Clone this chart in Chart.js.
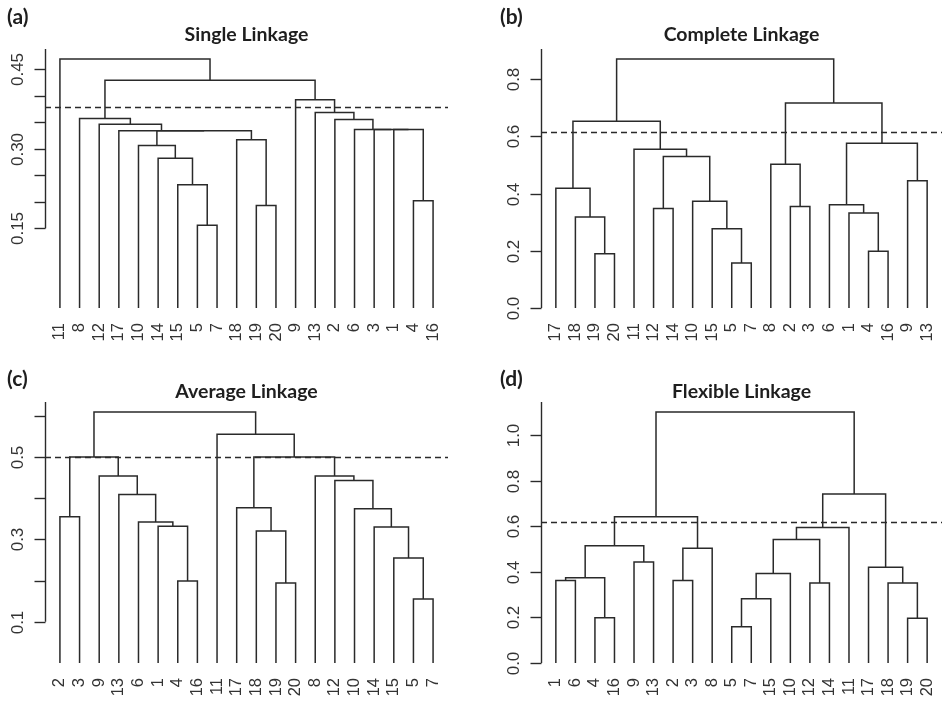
<!DOCTYPE html>
<html>
<head>
<meta charset="utf-8">
<script src="https://cdn.jsdelivr.net/npm/chart.js@4.4.1/dist/chart.umd.min.js"></script>
<style>
  body { margin: 0; background: #fff; width: 942px; height: 703px; position: relative; overflow: hidden; }
  canvas { position: absolute; }
</style>
</head>
<body>
<canvas id="pa" width="471" height="360" style="left:0;top:0"></canvas>
<canvas id="pb" width="471" height="360" style="left:471px;top:0"></canvas>
<canvas id="pc" width="471" height="363" style="left:0;top:340px"></canvas>
<canvas id="pd" width="471" height="363" style="left:471px;top:340px"></canvas>
<script>
// leaf labels in plotting order, merges in R hclust style:
// negative = leaf position (1-based), positive = an earlier merge
var singleLeaves = ['11','8','12','17','10','14','15','5','7','18','19','20','9','13','2','6','3','1','4','16'];
var singleMerges = [[-8,-9],[-7,1],[-6,2],[-5,3],[-11,-12],[-10,5],[4,6],[-4,7],[-3,8],[-2,9],
                    [-19,-20],[-18,11],[-17,12],[-16,13],[-15,14],[-14,15],[-13,16],[10,17],[-1,18]];
var singleHeights = [0.156,0.232,0.282,0.306,0.193,0.317,0.334,0.334,0.346,0.357,
                     0.202,0.336,0.336,0.336,0.355,0.368,0.392,0.429,0.469];
var singleCut = 0.379;
var singleTicks = [0.15,0.20,0.25,0.30,0.35,0.40,0.45];
var singleTickLabels = ['0.15','','','0.30','','','0.45'];

var completeLeaves = ['17','18','19','20','11','12','14','10','15','5','7','8','2','3','6','1','4','16','9','13'];
var completeMerges = [[-3,-4],[-2,1],[-1,2],[-10,-11],[-9,4],[-8,5],[-6,-7],[7,6],[-5,8],[3,9],
                      [-13,-14],[-12,11],[-17,-18],[-16,13],[-15,14],[-19,-20],[15,16],[12,17],[10,18]];
var completeHeights = [0.190,0.318,0.418,0.157,0.277,0.373,0.348,0.529,0.555,0.652,
                       0.355,0.502,0.198,0.332,0.361,0.445,0.576,0.716,0.870];
var completeCut = 0.614;
var completeTicks = [0.0,0.2,0.4,0.6,0.8];
var completeTickLabels = ['0.0','0.2','0.4','0.6','0.8'];

var averageLeaves = ['2','3','9','13','6','1','4','16','11','17','18','19','20','8','12','10','14','15','5','7'];
var averageMerges = [[-1,-2],[-7,-8],[-6,2],[-5,3],[-4,4],[-3,5],[1,6],[-12,-13],[-11,8],[-10,9],
                     [-19,-20],[-18,11],[-17,12],[-16,13],[-15,14],[-14,15],[10,16],[-9,17],[7,18]];
var averageHeights = [0.355,0.199,0.332,0.342,0.409,0.454,0.500,0.194,0.320,0.377,
                      0.155,0.255,0.330,0.374,0.443,0.454,0.500,0.555,0.609];
var averageCut = 0.500;
var averageTicks = [0.1,0.2,0.3,0.4,0.5,0.6];
var averageTickLabels = ['0.1','','0.3','','0.5',''];

var flexibleLeaves = ['1','6','4','16','9','13','2','3','8','5','7','15','10','12','14','11','17','18','19','20'];
var flexibleMerges = [[-1,-2],[-3,-4],[1,2],[-5,-6],[3,4],[-7,-8],[6,-9],[5,7],[-10,-11],[9,-12],
                      [10,-13],[-14,-15],[11,12],[13,-16],[-19,-20],[-18,15],[-17,16],[14,17],[8,18]];
var flexibleHeights = [0.363,0.199,0.375,0.444,0.515,0.363,0.504,0.643,0.159,0.282,
                       0.393,0.351,0.543,0.596,0.197,0.351,0.421,0.743,1.103];
var flexibleCut = 0.619;
var flexibleTicks = [0.0,0.2,0.4,0.6,0.8,1.0];
var flexibleTickLabels = ['0.0','0.2','0.4','0.6','0.8','1.0'];

var inkColor = '#2a2a2a';
var textColor = '#333';

// one dataset per merge: left leg, crossbar, right leg
function buildLinks(merges, heights) {
  var pos = [];
  var sets = [];
  function where(ref) {
    if (ref < 0) return { x: -ref, y: 0 };
    return { x: pos[ref - 1], y: heights[ref - 1] };
  }
  for (var i = 0; i < merges.length; i++) {
    var l = where(merges[i][0]);
    var r = where(merges[i][1]);
    var h = heights[i];
    pos.push((l.x + r.x) / 2);
    sets.push({
      data: [{x: l.x, y: l.y}, {x: l.x, y: h}, {x: r.x, y: h}, {x: r.x, y: r.y}],
      showLine: true,
      borderColor: inkColor,
      borderWidth: 1.5,
      pointRadius: 0,
      tension: 0,
      fill: false
    });
  }
  return sets;
}

function makePanel(id, p) {
  var top = Math.max.apply(null, p.heights);
  var decor = {
    id: 'decor_' + id,
    afterDraw: function(chart) {
      var ctx = chart.ctx;
      var xs = chart.scales.x, ys = chart.scales.y;
      var area = chart.chartArea;
      ctx.save();
      // cut line
      ctx.strokeStyle = inkColor;
      ctx.lineWidth = 1.4;
      ctx.setLineDash([6, 4]);
      var cy = Math.round(ys.getPixelForValue(p.cut)) + 0.5;
      ctx.beginPath();
      ctx.moveTo(area.left, cy);
      ctx.lineTo(area.right, cy);
      ctx.stroke();
      ctx.setLineDash([]);
      // y axis
      var ax = Math.round(area.left) + 0.5;
      ctx.lineWidth = 1.4;
      ctx.beginPath();
      ctx.moveTo(ax, ys.getPixelForValue(p.ticks[0]));
      ctx.lineTo(ax, area.top);
      ctx.stroke();
      ctx.fillStyle = textColor;
      ctx.font = '17px "Liberation Sans", Arial, sans-serif';
      for (var i = 0; i < p.ticks.length; i++) {
        var ty = Math.round(ys.getPixelForValue(p.ticks[i])) + 0.5;
        ctx.beginPath();
        ctx.moveTo(ax - 11, ty);
        ctx.lineTo(ax, ty);
        ctx.stroke();
        if (p.tickLabels[i]) {
          ctx.save();
          ctx.translate(ax - 27, ty);
          ctx.rotate(-Math.PI / 2);
          ctx.textAlign = 'center';
          ctx.textBaseline = 'middle';
          ctx.fillText(p.tickLabels[i], 0, 0);
          ctx.restore();
        }
      }
      // leaf labels
      ctx.font = '16.5px "Liberation Sans", Arial, sans-serif';
      var ly = ys.getPixelForValue(0) + 15;
      for (var j = 0; j < p.leaves.length; j++) {
        ctx.save();
        ctx.translate(xs.getPixelForValue(j + 1), ly);
        ctx.rotate(-Math.PI / 2);
        ctx.textAlign = 'right';
        ctx.textBaseline = 'middle';
        ctx.fillText(p.leaves[j], 0, 0);
        ctx.restore();
      }
      // title and panel letter
      ctx.fillStyle = '#1e1e1e';
      ctx.textAlign = 'center';
      ctx.textBaseline = 'middle';
      ctx.font = 'bold 19.5px Lato, "Open Sans", sans-serif';
      ctx.fillText(p.title, (area.left + area.right) / 2, p.titleY);
      ctx.textAlign = 'left';
      ctx.font = 'bold 21px Lato, "Open Sans", sans-serif';
      ctx.fillText(p.letter, p.letterX, p.letterY);
      ctx.restore();
    }
  };
  return new Chart(document.getElementById(id), {
    type: 'scatter',
    data: { datasets: buildLinks(p.merges, p.heights) },
    options: {
      responsive: false,
      animation: false,
      events: [],
      layout: { padding: p.pad },
      plugins: { legend: { display: false }, tooltip: { enabled: false } },
      scales: {
        x: { type: 'linear', display: false, min: 0.24, max: 20.76 },
        y: { type: 'linear', display: false, min: -0.04 * top, max: 1.04 * top }
      }
    },
    plugins: [decor]
  });
}

makePanel('pa', { leaves: singleLeaves, merges: singleMerges, heights: singleHeights, cut: singleCut,
  ticks: singleTicks, tickLabels: singleTickLabels, title: 'Single Linkage', letter: '(a)',
  titleY: 35, letterX: 7, letterY: 17, pad: { left: 45, right: 23, top: 49, bottom: 42 } });
makePanel('pb', { leaves: completeLeaves, merges: completeMerges, heights: completeHeights, cut: completeCut,
  ticks: completeTicks, tickLabels: completeTickLabels, title: 'Complete Linkage', letter: '(b)',
  titleY: 35, letterX: 29, letterY: 17, pad: { left: 70, right: 0, top: 49, bottom: 42 } });
makePanel('pc', { leaves: averageLeaves, merges: averageMerges, heights: averageHeights, cut: averageCut,
  ticks: averageTicks, tickLabels: averageTickLabels, title: 'Average Linkage', letter: '(c)',
  titleY: 52, letterX: 7, letterY: 39, pad: { left: 45, right: 23, top: 62, bottom: 30 } });
makePanel('pd', { leaves: flexibleLeaves, merges: flexibleMerges, heights: flexibleHeights, cut: flexibleCut,
  ticks: flexibleTicks, tickLabels: flexibleTickLabels, title: 'Flexible Linkage', letter: '(d)',
  titleY: 52, letterX: 29, letterY: 39, pad: { left: 70, right: 0, top: 62, bottom: 30 } });
</script>
</body>
</html>
